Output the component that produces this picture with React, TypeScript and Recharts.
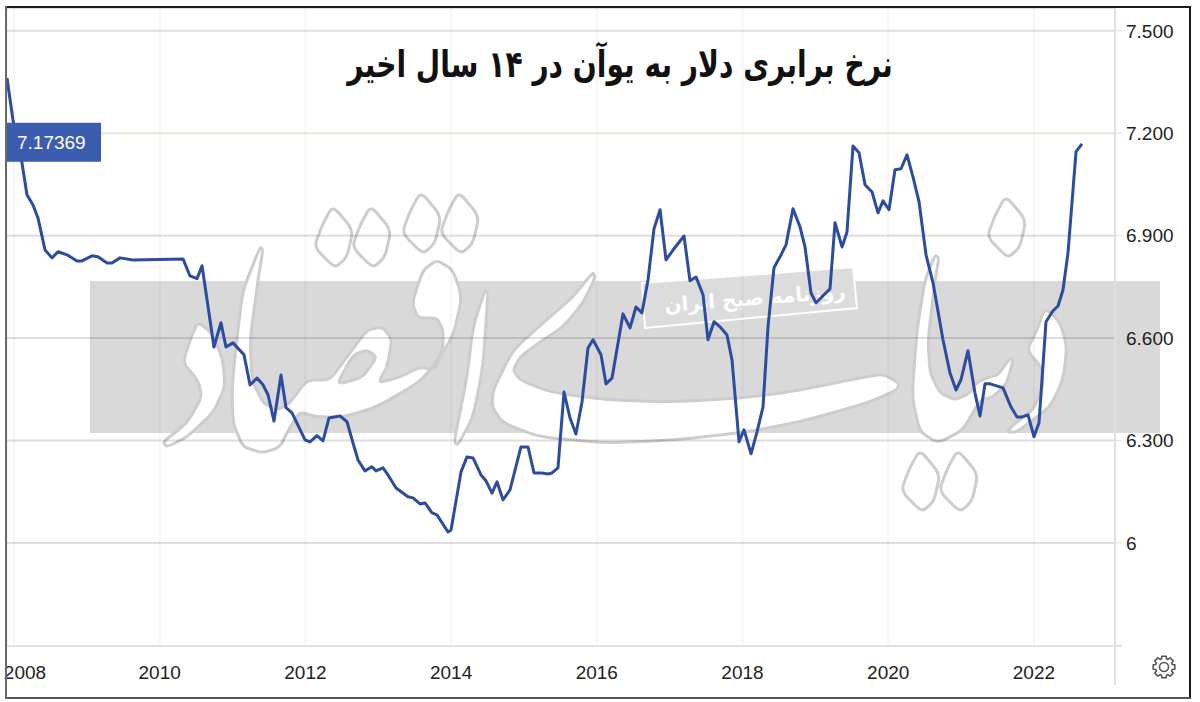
import {
  CartesianGrid,
  Line,
  LineChart,
  ReferenceLine,
  XAxis,
  YAxis,
} from "recharts";

const TITLE = "نرخ برابری دلار به یوآن در ۱۴ سال اخیر";
const STAMP = "روزنامه صبح ایران";
const LAST_RATE = 7.17369;

const yearTicks = [2008, 2010, 2012, 2014, 2016, 2018, 2020, 2022];
const rateTicks = [6, 6.3, 6.6, 6.9, 7.2, 7.5];

const years = [
  2007.904, 2007.986, 2008.11, 2008.178, 2008.261, 2008.329, 2008.426, 2008.522, 2008.604, 2008.728,
  2008.865, 2008.933, 2009.071, 2009.153, 2009.277, 2009.345, 2009.455, 2009.633, 2010.32, 2010.416,
  2010.512, 2010.581, 2010.745, 2010.841, 2010.91, 2011.006, 2011.157, 2011.24, 2011.336, 2011.418,
  2011.487, 2011.569, 2011.665, 2011.734, 2011.816, 2011.995, 2012.063, 2012.159, 2012.242, 2012.324,
  2012.475, 2012.571, 2012.653, 2012.722, 2012.818, 2012.914, 2012.969, 2013.065, 2013.134, 2013.244,
  2013.408, 2013.477, 2013.573, 2013.642, 2013.738, 2013.806, 2013.957, 2013.999, 2014.136, 2014.218,
  2014.301, 2014.41, 2014.479, 2014.561, 2014.63, 2014.712, 2014.808, 2014.959, 2015.056, 2015.138,
  2015.248, 2015.33, 2015.385, 2015.467, 2015.55, 2015.632, 2015.714, 2015.797, 2015.879, 2015.948,
  2016.058, 2016.126, 2016.209, 2016.36, 2016.456, 2016.538, 2016.62, 2016.703, 2016.785, 2016.868,
  2016.95, 2017.046, 2017.197, 2017.279, 2017.362, 2017.458, 2017.526, 2017.609, 2017.691, 2017.787,
  2017.856, 2017.952, 2018.021, 2018.117, 2018.199, 2018.281, 2018.35, 2018.432, 2018.515, 2018.597,
  2018.693, 2018.789, 2018.858, 2018.94, 2019.009, 2019.105, 2019.201, 2019.27, 2019.366, 2019.434,
  2019.517, 2019.599, 2019.682, 2019.778, 2019.86, 2019.929, 2020.011, 2020.093, 2020.176, 2020.258,
  2020.34, 2020.423, 2020.519, 2020.615, 2020.752, 2020.848, 2020.931, 2020.999, 2021.095, 2021.191,
  2021.26, 2021.329, 2021.398, 2021.576, 2021.686, 2021.768, 2021.837, 2021.919, 2022.001, 2022.07,
  2022.166, 2022.262, 2022.331, 2022.399, 2022.468, 2022.578, 2022.66,
];

const rates = [
  7.362, 7.239, 7.113, 7.02, 6.99, 6.952, 6.858, 6.835, 6.853, 6.844,
  6.826, 6.826, 6.841, 6.838, 6.82, 6.82, 6.835, 6.829, 6.832, 6.782,
  6.774, 6.812, 6.574, 6.645, 6.574, 6.586, 6.551, 6.463, 6.483, 6.463,
  6.434, 6.357, 6.492, 6.396, 6.381, 6.302, 6.296, 6.314, 6.299, 6.366,
  6.372, 6.355, 6.293, 6.243, 6.211, 6.223, 6.211, 6.22, 6.199, 6.161,
  6.135, 6.132, 6.114, 6.117, 6.088, 6.082, 6.032, 6.038, 6.208, 6.252,
  6.249, 6.199, 6.182, 6.146, 6.179, 6.126, 6.155, 6.281, 6.281, 6.205,
  6.205, 6.202, 6.205, 6.22, 6.442, 6.366, 6.319, 6.413, 6.571, 6.595,
  6.551, 6.466, 6.483, 6.671, 6.63, 6.691, 6.674, 6.771, 6.92, 6.976,
  6.829, 6.858, 6.899, 6.768, 6.779, 6.727, 6.595, 6.648, 6.633, 6.609,
  6.536, 6.296, 6.331, 6.261, 6.325, 6.398, 6.633, 6.806, 6.838, 6.873,
  6.979, 6.926, 6.867, 6.732, 6.703, 6.724, 6.744, 6.938, 6.867, 6.911,
  7.163, 7.143, 7.049, 7.028, 6.967, 7.002, 6.976, 7.093, 7.096, 7.137,
  7.072, 6.999, 6.844, 6.762, 6.595, 6.498, 6.448, 6.478, 6.563, 6.439,
  6.372, 6.466, 6.466, 6.454, 6.398, 6.369, 6.369, 6.375, 6.311, 6.352,
  6.648, 6.68, 6.694, 6.741, 6.85, 7.146, 7.169,
];

const chartData = years.map((year, i) => ({ year, rate: rates[i] }));

// watermark outlines
const dot = (dx: number, dy: number): number[][] => [
  [333 + dx, 206 + dy], [353 + dx, 230 + dy], [347 + dx, 257 + dy],
  [335 + dx, 268 + dy], [314 + dx, 247 + dy], [323 + dx, 223 + dy],
];
const wmDots = [
  dot(0, 0), dot(38, 0), dot(88, -14), dot(126, -14),
  dot(587, 244), dot(625, 244), dot(673, -10),
];
const wmWhite = [
  // first dal
  [[198, 322], [212, 333], [223, 360], [225, 387], [213, 413], [187, 437], [167, 447], [163, 442], [187, 423], [202, 397], [198, 380], [183, 363], [190, 340]],
  // alef, sad and qaf in one stroke
  [[260, 247], [263, 250], [258, 280], [250, 340], [252, 380], [263, 403], [277, 410], [290, 403], [307, 380], [330, 380], [347, 357], [367, 330], [383, 327], [392, 340], [387, 367], [378, 383], [400, 377], [420, 367], [435, 370], [443, 347], [443, 330], [437, 318], [418, 318], [412, 303], [423, 270], [437, 260], [453, 270], [462, 297], [453, 337], [423, 380], [377, 407], [343, 417], [317, 417], [300, 412], [290, 427], [280, 447], [263, 453], [243, 447], [233, 423], [232, 387], [237, 337], [243, 290]],
  // second alef
  [[485, 290], [488, 292], [483, 367], [473, 417], [458, 445], [454, 442], [467, 377], [473, 327]],
  // long ye
  [[593, 272], [595, 278], [583, 303], [563, 327], [540, 342], [520, 357], [513, 370], [520, 380], [550, 392], [607, 400], [673, 402], [740, 398], [790, 392], [860, 378], [883, 374], [899, 383], [897, 390], [867, 403], [800, 422], [740, 433], [673, 440], [607, 443], [540, 437], [503, 423], [492, 407], [493, 390], [513, 350], [543, 323], [573, 297]],
  // ya and nun
  [[935, 255], [939, 258], [935, 280], [928, 340], [930, 373], [940, 393], [955, 400], [970, 393], [977, 382], [990, 377], [998, 375], [1010, 358], [1013, 360], [1007, 383], [993, 397], [980, 400], [963, 430], [938, 443], [920, 432], [912, 397], [917, 330], [925, 280]],
  // last dal
  [[1045, 308], [1060, 322], [1067, 347], [1063, 380], [1050, 407], [1017, 432], [1007, 432], [1013, 425], [1033, 410], [1043, 387], [1042, 368], [1027, 350], [1037, 330]],
];
const wmLeaf = [[338, 382], [353, 355], [367, 350], [377, 357], [363, 377], [343, 383]];

// closed outline with the corners only slightly rounded
function smooth(points: number[][]) {
  const lerp = (a: number[], b: number[], t: number) => `${a[0] + (b[0] - a[0]) * t} ${a[1] + (b[1] - a[1]) * t}`;
  const n = points.length;
  let d = "";
  points.forEach((p, i) => {
    const prev = points[(i + n - 1) % n];
    const next = points[(i + 1) % n];
    d += `${i === 0 ? "M" : " L"}${lerp(p, prev, 0.3)} Q${p[0]} ${p[1]} ${lerp(p, next, 0.3)}`;
  });
  return d + " Z";
}

function gearPath(cx: number, cy: number) {
  const pts: string[] = [];
  for (let i = 0; i < 8; i++) {
    const a = (i * Math.PI) / 4;
    [[-0.3, 8.6], [-0.2, 11], [0.2, 11], [0.3, 8.6]].forEach(([da, r]) => {
      pts.push(`${(cx + r * Math.cos(a + da)).toFixed(1)} ${(cy + r * Math.sin(a + da)).toFixed(1)}`);
    });
  }
  return `M${pts.join(" L")} Z`;
}

function Watermark() {
  return (
    <svg width={1200} height={702} style={{ position: "absolute", left: 0, top: 0 }}>
      <rect x={90} y={281} width={1070} height={152} fill="#d9d9d9" />
      <g fill="#ffffff" stroke="#cdcdcd" strokeWidth={3} strokeLinejoin="round">
        {wmWhite.map((s, i) => (
          <path key={i} d={smooth(s)} />
        ))}
        {wmDots.map((s, i) => (
          <path key={i} d={smooth(s)} fill="none" />
        ))}
      </g>
      <path d={smooth(wmLeaf)} fill="#d9d9d9" stroke="#cdcdcd" strokeWidth={3} />
      <polygon points="642,283 853,267 857,308 645,328" fill="#dcdcdc" stroke="#ffffff" strokeWidth={2} />
      <text
        x={755}
        y={305}
        textAnchor="middle"
        direction="rtl"
        transform="rotate(-4.5 755 298)"
        fontFamily="DejaVu Sans"
        fontWeight="bold"
        fontSize={20}
        fill="#ffffff"
      >
        {STAMP}
      </text>
    </svg>
  );
}

function YearTick({ x, y, payload }: any) {
  // the first label is pushed right so it stays inside the frame
  const shift = payload.value === 2008 ? 11 : 0;
  return (
    <text x={x + shift} y={y + 25} textAnchor="middle" fontSize={19} fontFamily="Liberation Sans" fill="#222">
      {payload.value}
    </text>
  );
}

function PriceTag({ viewBox }: any) {
  return (
    <g>
      <rect x={viewBox.x} y={viewBox.y - 19.5} width={94} height={39} fill="#3b5cb0" />
      <text x={viewBox.x + 10} y={viewBox.y + 7} fontSize={19} fontFamily="Liberation Sans" fill="#ffffff">
        {LAST_RATE}
      </text>
    </g>
  );
}

export default function App() {
  return (
    <div style={{ position: "absolute", left: 0, top: 0, width: 1200, height: 702, background: "#fff", overflow: "hidden" }}>
      <Watermark />
      <div style={{ position: "absolute", left: 0, top: 0 }}>
        <LineChart width={1200} height={702} data={chartData} margin={{ left: 7, right: 0, top: 8, bottom: 0 }}>
          <CartesianGrid horizontal={false} stroke="rgba(0,0,0,0.035)" strokeWidth={2} />
          <CartesianGrid vertical={false} stroke="rgba(0,0,0,0.13)" strokeWidth={2} />
          <XAxis
            type="number"
            dataKey="year"
            domain={[2007.904, 2023.113]}
            ticks={yearTicks}
            interval={0}
            allowDataOverflow
            height={56}
            axisLine={{ stroke: "#e2e2e2", strokeWidth: 2 }}
            tickLine={false}
            tick={<YearTick />}
          />
          <YAxis
            orientation="right"
            domain={[5.698, 7.567]}
            ticks={rateTicks}
            interval={0}
            allowDataOverflow
            width={85}
            axisLine={{ stroke: "#dfdfdf", strokeWidth: 2 }}
            tickLine={{ stroke: "#dfdfdf" }}
            tickSize={7}
            tickMargin={4}
            tick={{ fontSize: 19, fontFamily: "Liberation Sans", fill: "#222" }}
            tickFormatter={(v: number) => (v === 6 ? "6" : v.toFixed(3))}
          />
          <ReferenceLine y={7.2} stroke="#efe9d8" strokeWidth={2} />
          <Line
            dataKey="rate"
            type="linear"
            dot={false}
            stroke="#2b4c9f"
            strokeWidth={3}
            strokeLinejoin="round"
            isAnimationActive={false}
          />
          <ReferenceLine y={LAST_RATE} stroke="none" label={<PriceTag />} />
        </LineChart>
      </div>
      <svg width={1200} height={702} style={{ position: "absolute", left: 0, top: 0 }}>
        <line x1={1115} y1={646} x2={1115} y2={685} stroke="#dfdfdf" strokeWidth={2} />
        <line x1={1115} y1={646} x2={1122} y2={646} stroke="#dfdfdf" strokeWidth={2} />
        <path d={gearPath(1164, 667)} fill="none" stroke="#555" strokeWidth={1.6} strokeLinejoin="round" />
        <circle cx={1164} cy={667} r={4.5} fill="none" stroke="#555" strokeWidth={1.6} />
        <line x1={6} y1={7} x2={1190} y2={7} stroke="#1a1a1a" strokeWidth={2} />
        <line x1={1190} y1={6} x2={1190} y2={699} stroke="#1a1a1a" strokeWidth={2} />
        <line x1={6} y1={698} x2={1191} y2={698} stroke="#555" strokeWidth={2} />
        <line x1={6} y1={6} x2={6} y2={699} stroke="#6a6a6a" strokeWidth={2} />
      </svg>
      <div
        dir="rtl"
        style={{
          position: "absolute",
          left: 120,
          top: 41,
          width: 1000,
          textAlign: "center",
          fontFamily: "DejaVu Sans",
          fontWeight: "bold",
          fontSize: 37,
          lineHeight: "48px",
          color: "#111",
          whiteSpace: "nowrap",
          transform: "scaleX(0.76)",
        }}
      >
        {TITLE}
      </div>
    </div>
  );
}
